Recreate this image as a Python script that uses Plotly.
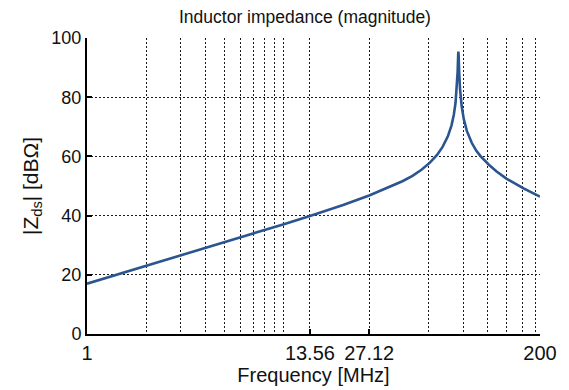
import plotly.graph_objects as go

# Frequency [MHz] and |Z_ds| [dBOhm]
freq_mhz = [1, 2, 3, 5, 7, 10, 13.56, 20, 27.12, 35, 40, 45, 50, 55, 60, 64, 68, 71, 73,
            74.5, 75.5, 76.3, 76.8, 77, 77.2, 77.7, 78.5, 80, 82, 85, 90, 95, 100, 110,
            120, 135, 150, 165, 180, 200]
z_db = [17.0, 23.0, 26.6, 31.0, 34.0, 37.1, 39.9, 43.6, 46.8, 49.8, 51.6, 53.4, 55.5,
        57.8, 60.5, 63.2, 66.7, 70.4, 74.1, 78.2, 82.6, 88.5, 94.2, 95.4, 94.2, 88.5,
        82.7, 77.0, 72.6, 68.6, 64.6, 61.9, 60.0, 57.2, 55.0, 52.5, 50.7, 49.2, 47.9, 46.4]

x_tick_vals = [1, 13.56, 27.12, 200]
x_tick_text = ["1", "13.56", "27.12", "200"]
x_minor_grid = [2, 3, 4, 5, 6, 7, 8, 9, 10, 54.24, 81.36, 108.48, 135.6, 162.72, 189.84]
y_tick_vals = [0, 20, 40, 60, 80, 100]

FONT = "Liberation Sans, Arial, sans-serif"
GRID = dict(gridcolor="#1a1a1a", gridwidth=1, griddash="2px,2px")

fig = go.Figure()
fig.add_trace(go.Scatter(x=freq_mhz, y=z_db, mode="lines",
                         line=dict(color="#2b5590", width=2.6), showlegend=False))

fig.update_layout(
    width=569, height=390,
    margin=dict(l=87, r=28, t=38, b=49),
    paper_bgcolor="white", plot_bgcolor="white",
    font=dict(family=FONT, size=18, color="#111"),
    title=dict(text="Inductor impedance (magnitude)", x=0.536, xref="container",
               xanchor="center", y=1 - 17 / 390, yanchor="middle",
               font=dict(size=17.5, family=FONT, color="#111")),
)
fig.update_xaxes(
    type="log", range=[0, 2.30103],
    tickvals=x_tick_vals, ticktext=x_tick_text,
    ticks="inside", ticklen=5, tickwidth=2, tickcolor="black",
    showline=True, linecolor="black", linewidth=2, mirror=False,
    showgrid=True, **GRID, zeroline=False,
    tickfont=dict(size=20),
    minor=dict(tickvals=x_minor_grid, showgrid=True, ticks="",
               gridcolor="#1a1a1a", gridwidth=1, griddash="2px,2px"),
    title=dict(text="Frequency [MHz]", standoff=0, font=dict(size=20)),
)
fig.update_yaxes(
    range=[0, 100], tickvals=y_tick_vals,
    ticks="inside", ticklen=5, tickwidth=2, tickcolor="black",
    showline=True, linecolor="black", linewidth=2, mirror=False,
    showgrid=True, **GRID, zeroline=False,
    tickfont=dict(size=18),
    title=dict(text="|Z<sub>ds</sub>| [dBΩ]", standoff=7, font=dict(size=21)),
)

fig.write_html("out.html")
